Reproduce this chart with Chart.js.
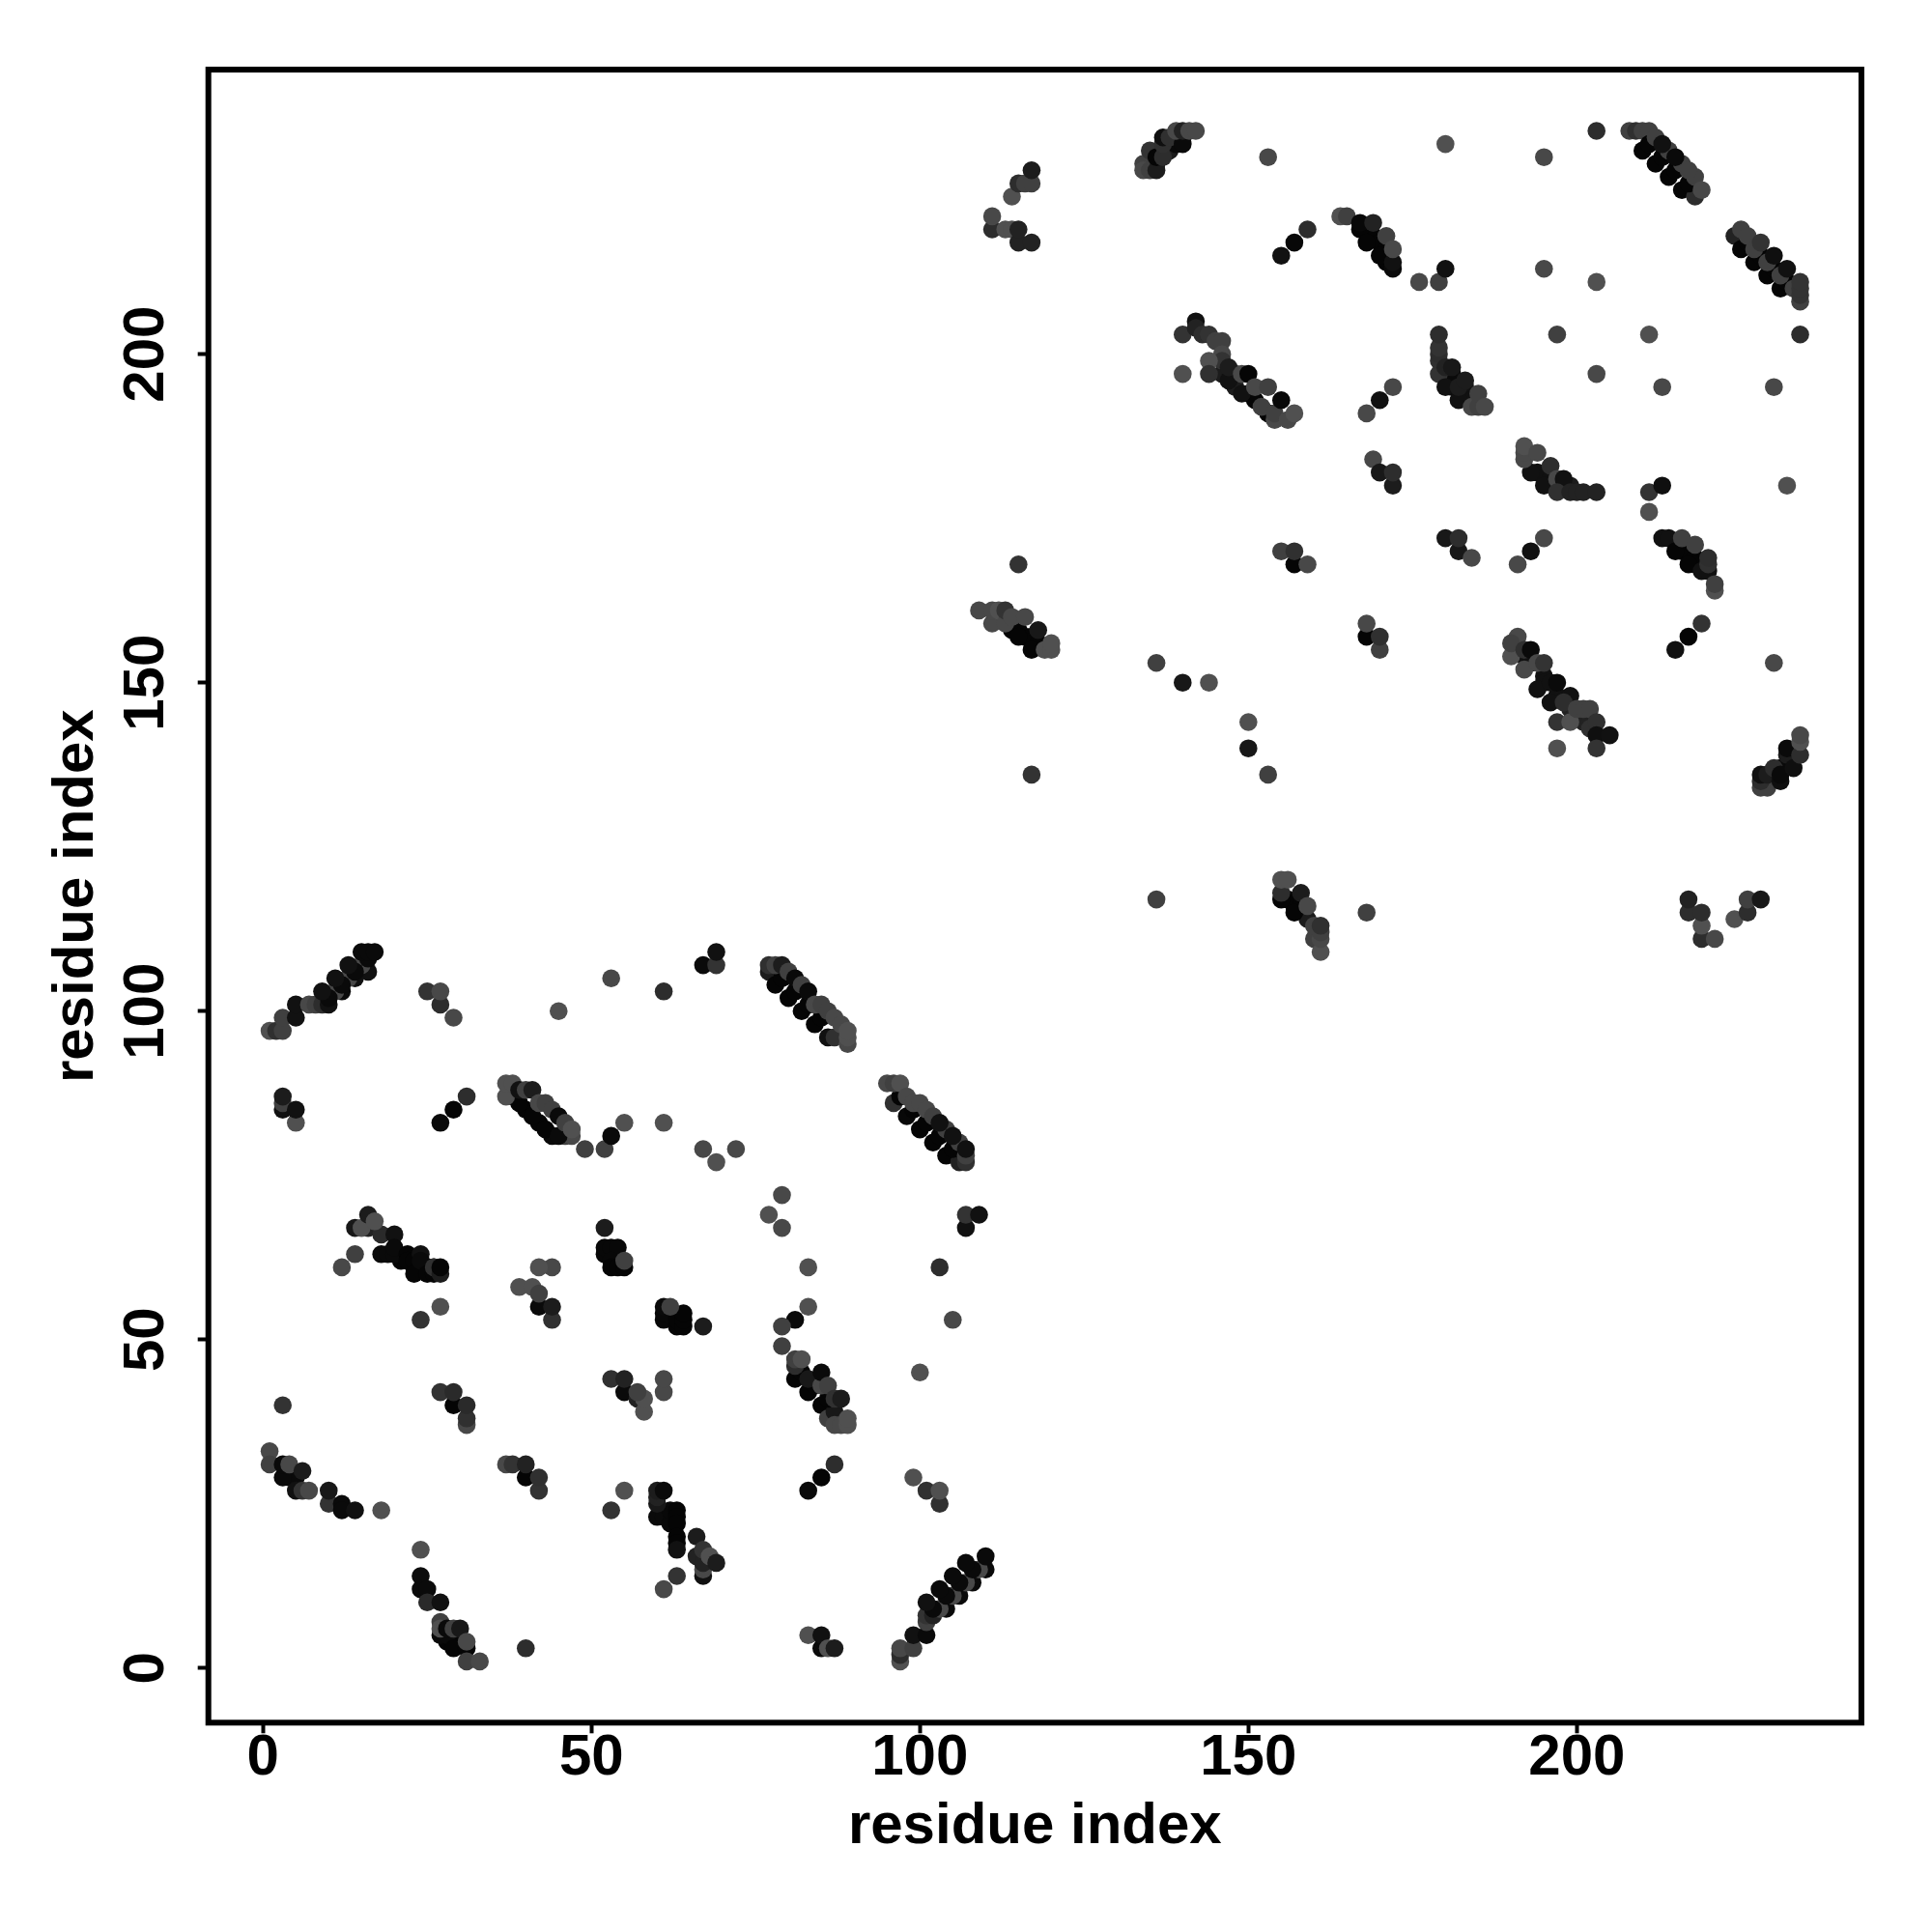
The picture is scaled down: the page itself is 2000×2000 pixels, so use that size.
<!DOCTYPE html>
<html>
<head>
<meta charset="utf-8">
<title>residue contact map</title>
<script src="https://cdn.jsdelivr.net/npm/chart.js@4"></script>
<style>
    html, body { margin: 0; padding: 0; background: #fff; }
    canvas { display: block; }
</style>
</head>
<body>
<canvas id="myChart" width="2000" height="2000"></canvas>
<script>
const axisLabel = "residue index";
const tickValues = [0, 50, 100, 150, 200];

// one line per cluster of contacts, same line order in all three arrays
const residueX = [
    4,5,3,1,1,3,3,5,4,6,7,6,10,10,12,12,14,18,
    28,29,30,24,24,24,25,25,27,27,28,29,31,27,27,28,29,30,31,31,33,40,
    27,29,31,29,31,31,
    37,38,40,40,42,42,
    55,53,55,57,58,58,57,61,61,53,55,
    60,61,62,62,63,63,63,63,63,63,60,60,60,61,66,66,67,67,67,67,68,69,63,61,
    83,85,87,99,101,103,103,83,85,85,86,87,
    97,97,97,99,99,101,101,101,102,104,106,108,110,103,105,107,109,102,104,106,108,101,103,105,107,110,
    1,2,3,3,5,5,7,8,9,10,12,14,16,11,13,15,10,12,14,16,9,11,13,15,16,17,
    29,27,25,27,45,53,61,67,69,69,
    3,5,3,3,5,
    27,29,31,
    38,40,42,44,46,47,39,41,43,45,37,37,38,39,40,41,42,43,44,45,46,47,
    49,52,53,55,61,67,69,72,
    21,23,25,26,14,16,15,18,16,17,20,14,12,18,19,20,20,22,22,23,23,24,24,25,26,26,27,27,
    27,24,
    39,41,42,42,44,44,44,42,
    52,52,52,53,54,53,53,54,55,55,
    61,61,61,63,63,64,64,64,62,67,
    83,103,83,105,81,79,79,100,
    81,83,85,86,87,87,88,82,84,86,81,81,82,83,85,85,86,87,88,89,89,
    77,78,80,82,84,86,87,79,81,83,85,77,78,79,80,81,82,83,84,85,86,87,88,89,89,89,
    96,98,100,102,104,106,107,97,99,101,103,105,95,96,97,98,99,100,101,102,104,106,107,103,105,107,
    107,107,109,79,77,79,
    111,111,113,114,115,115,117,114,115,116,117,117,
    135,136,137,138,139,140,134,134,135,136,135,136,137,137,137,138,140,139,140,141,142,
    153,180,195,203,155,157,159,
    168,169,170,171,171,164,165,167,167,168,170,172,172,169,171,172,
    176,179,180,
    146,148,148,150,151,153,140,142,142,143,144,145,146,146,146,140,144,144,147,147,149,149,150,152,151,153,154,154,155,156,157,
    172,170,168,169,170,172,172,
    181,181,183,183,184,179,179,179,179,179,180,182,180,181,182,183,184,185,185,186,
    208,209,210,211,210,212,214,216,218,211,213,215,217,212,214,216,218,213,215,217,219,
    224,225,227,229,231,226,228,230,232,225,226,227,228,229,231,233,230,232,234,234,234,234,
    195,203,197,211,234,203,213,230,
    194,196,198,199,193,195,192,192,192,194,196,197,198,197,199,200,201,203,
    211,213,211,232,
    180,182,182,184,191,193,195,
    216,217,218,219,218,213,214,215,217,219,220,216,218,220,220,221,221,
    215,217,219,230,
    192,193,195,195,197,199,199,201,202,190,191,190,192,193,192,194,195,194,196,196,197,197,199,198,200,201,202,202,203,203,205,197,203,
    230,231,233,228,229,228,228,229,230,231,231,232,233,232,234,234,234,
    114,115,116,117,118,109,111,111,112,113,113,114,115,116,117,118,119,120,120,115,
    155,157,157,159,168,168,170,170,136,140,144,150,150,153,117,
    156,157,158,159,155,155,155,156,157,158,160,159,161,160,161,161,161,
    217,217,219,219,219,221,224,226,226,228,136,168
];

const residueY = [
    29,29,40,33,31,29,31,27,31,27,27,30,25,27,25,24,24,24,
    4,4,4,18,14,12,12,10,10,5,5,3,3,7,6,6,6,6,1,4,1,3,
    42,40,37,42,38,40,
    31,31,29,31,27,29,
    42,44,44,41,39,41,42,42,44,24,27,
    23,23,22,24,24,23,22,20,19,18,25,26,27,27,20,17,14,15,16,18,17,16,14,12,
    27,29,31,29,27,25,27,5,3,5,3,3,
    1,2,3,3,5,5,7,8,8,9,11,13,15,9,11,13,15,9,11,13,15,10,12,14,16,17,
    97,97,97,99,99,101,101,101,101,101,103,105,106,103,105,107,102,104,106,108,103,105,107,109,109,109,
    99,101,103,103,100,105,103,107,107,109,
    85,83,86,87,85,
    83,85,87,
    87,85,83,81,81,81,86,84,82,81,87,89,89,88,88,88,86,86,85,84,83,82,
    79,79,81,83,83,79,77,79,
    62,61,61,61,67,67,67,66,69,68,66,63,61,63,63,63,64,63,62,62,60,63,62,60,60,61,60,61,
    55,53,
    58,58,55,57,53,55,61,61,
    67,63,64,64,64,62,61,61,61,62,
    53,54,55,52,53,52,53,54,55,52,
    61,61,55,53,53,52,49,45,
    44,42,40,38,39,37,37,45,43,41,46,47,47,44,43,45,43,41,41,37,38,
    106,104,102,100,98,96,96,105,103,101,99,107,107,107,106,105,104,103,101,101,100,99,98,95,96,97,
    86,84,82,80,78,77,77,87,85,83,81,79,89,89,89,87,86,86,85,84,82,80,78,83,81,79,
    67,69,69,72,69,67,
    219,221,219,219,217,219,217,224,226,226,226,228,
    229,229,231,231,232,233,229,228,228,228,231,230,230,232,233,233,232,234,234,234,234,
    230,232,230,234,215,217,219,
    219,218,217,216,214,221,221,219,220,217,215,213,214,220,218,216,
    211,211,213,
    197,197,195,194,193,191,203,205,204,203,203,202,202,200,199,197,199,197,196,198,194,197,197,192,195,195,190,191,193,190,191,
    195,193,191,184,182,180,182,
    195,197,194,195,193,197,199,200,201,203,195,193,198,198,195,196,192,192,194,192,
    234,234,234,234,231,229,227,225,224,232,230,228,226,233,231,229,227,232,230,228,225,
    218,216,214,212,210,217,215,213,211,219,218,216,217,214,212,210,215,213,208,209,210,211,
    213,211,203,203,203,197,195,195,
    182,181,180,180,182,180,184,185,186,185,183,181,181,179,179,179,179,179,
    179,180,176,180,
    172,170,172,169,168,170,172,
    170,170,169,168,168,172,172,170,168,167,167,172,171,168,169,164,165,
    155,157,159,153,
    154,153,151,150,148,146,148,144,144,154,157,156,155,155,152,153,153,149,147,150,150,144,144,147,146,146,146,143,144,142,142,140,140,
    136,137,139,134,134,135,136,136,137,135,136,139,137,140,139,141,142,
    158,158,157,157,156,161,159,161,161,159,161,160,157,160,155,158,155,155,156,168,
    170,168,170,168,157,159,155,157,153,150,150,144,140,136,136,
    117,116,116,114,117,118,120,120,115,118,111,116,109,113,111,112,113,
    115,117,111,113,115,111,114,115,117,117,117,115
];

// grey level of each contact, 0 = black
const contactGrey = [
    10,10,51,72,64,10,10,17,72,51,72,28,51,24,10,10,17,80,
    5,5,5,80,12,10,10,42,17,10,10,5,5,64,80,10,64,24,64,72,72,45,
    51,5,72,42,48,42,
    72,51,5,34,51,48,
    10,48,34,34,80,80,64,72,72,51,80,
    10,10,8,8,5,5,5,5,5,17,24,34,28,10,28,34,17,72,34,51,80,28,51,72,
    10,5,45,80,48,48,80,80,10,17,80,28,
    80,45,72,64,17,10,64,51,34,10,10,10,10,72,72,72,72,10,10,10,10,17,10,10,10,10,
    80,48,64,64,17,17,72,64,45,17,10,17,17,72,72,72,10,10,10,10,17,17,17,10,10,10,
    72,45,51,72,80,72,45,10,51,17,
    17,80,64,28,17,
    10,5,45,
    51,5,5,10,64,72,5,5,5,10,80,80,80,17,64,28,72,64,64,10,64,80,
    64,64,10,80,80,72,80,72,
    5,5,5,5,24,34,80,42,28,80,17,64,72,10,10,10,10,5,5,5,5,17,10,5,5,48,28,5,
    80,51,
    80,80,10,64,48,28,72,80,
    28,8,8,8,8,8,5,5,5,64,
    8,8,10,5,5,5,5,5,64,28,
    80,45,80,72,10,64,64,80,
    5,5,5,64,24,72,72,5,5,5,45,64,80,24,72,10,64,48,28,80,80,
    28,5,5,5,5,17,48,5,5,5,5,48,64,28,64,10,64,10,72,64,64,72,72,72,80,80,
    48,8,5,5,5,34,48,5,5,5,5,5,72,64,80,72,72,72,72,64,64,64,64,17,17,17,
    17,51,17,72,80,72,
    45,72,80,80,34,34,34,80,45,64,64,28,
    28,10,10,28,10,10,64,72,64,28,51,5,45,48,15,48,10,72,34,72,72,
    72,80,72,45,17,8,45,
    5,5,5,5,5,80,64,5,8,5,5,10,17,34,64,72,
    72,64,17,
    28,17,28,17,5,5,51,17,34,45,51,64,64,72,51,80,80,48,17,28,17,72,5,64,72,64,72,64,8,72,80,
    72,17,72,72,24,28,45,
    10,10,17,17,17,51,48,45,51,45,17,17,34,24,28,28,72,64,64,72,
    64,48,64,64,5,5,5,5,45,5,5,5,5,64,64,64,64,17,10,64,72,
    34,5,5,5,5,5,5,5,5,64,64,64,51,64,64,64,15,17,64,51,51,51,
    72,80,64,80,45,72,72,72,
    17,17,17,28,17,17,72,72,80,72,45,72,17,48,34,34,34,34,
    51,15,80,80,
    24,24,45,72,72,17,72,
    5,5,5,5,5,17,17,5,5,17,17,64,64,48,45,80,64,
    17,5,51,72,
    17,17,17,17,17,34,17,34,34,80,72,64,48,10,72,72,51,17,17,17,10,51,80,45,64,64,64,48,48,15,17,80,51,
    10,10,15,64,64,45,17,28,45,15,10,28,15,10,45,80,72,
    5,5,5,5,5,72,72,72,80,72,51,72,5,72,5,24,80,80,80,51,
    64,5,48,72,5,72,64,48,64,24,80,80,24,64,51,
    5,5,5,28,5,45,80,80,5,28,64,72,80,64,72,64,48,
    45,34,45,80,45,72,80,45,64,24,64,64
];

console.log(residueX.length, residueY.length, contactGrey.length);

const points = residueX.map((x, i) => ({ x: x, y: residueY[i] }));
const greys = contactGrey.map(g => `rgb(${g},${g},${g})`);

const fontFamily = '"Liberation Sans", Arial, sans-serif';

// R style box round the plot area
const boxPlugin = {
    id: 'box',
    afterDatasetsDraw(chart) {
        const { ctx, chartArea } = chart;
        ctx.save();
        ctx.strokeStyle = '#000';
        ctx.lineWidth = 6;
        ctx.lineJoin = 'miter';
        ctx.strokeRect(chartArea.left, chartArea.top, chartArea.right - chartArea.left, chartArea.bottom - chartArea.top);
        ctx.restore();
    }
};

function axisOptions() {
    return {
        type: 'linear',
        min: -8.32,
        max: 243.32,
        afterBuildTicks(scale) {
            scale.ticks = tickValues.map(v => ({ value: v }));
        },
        border: { display: false },
        grid: {
            drawOnChartArea: false,
            drawTicks: true,
            tickLength: 11,
            tickWidth: 4,
            tickColor: '#000'
        },
        title: {
            display: true,
            text: axisLabel,
            color: '#000',
            font: { family: fontFamily, size: 60, weight: 'bold', lineHeight: 1 }
        }
    };
}

const xAxis = axisOptions();
xAxis.ticks = {
    color: '#000',
    font: { family: fontFamily, size: 60, weight: 'bold', lineHeight: 1 },
    maxRotation: 0,
    minRotation: 0,
    autoSkip: false,
    padding: -4
};
xAxis.title.padding = { top: 0, bottom: 79 };
xAxis.afterFit = scale => { scale.height = 216.7; };

const yAxis = axisOptions();
yAxis.ticks = {
    color: '#000',
    font: { family: fontFamily, size: 60, weight: 'bold', lineHeight: 1 },
    minRotation: 90,
    maxRotation: 90,
    autoSkip: false,
    crossAlign: 'center',
    padding: 2
};
yAxis.title.padding = { top: 49, bottom: 0 };
yAxis.afterFit = scale => { scale.width = 215.7; };

new Chart(document.getElementById('myChart').getContext('2d'), {
    type: 'scatter',
    data: {
        datasets: [{
            data: points,
            pointRadius: 9.3,
            pointBorderWidth: 0,
            pointBackgroundColor: greys,
            pointHoverRadius: 9.3
        }]
    },
    options: {
        responsive: false,
        animation: false,
        layout: { padding: { top: 72.1, right: 73.1, bottom: 0, left: 0 } },
        plugins: {
            legend: { display: false },
            tooltip: { enabled: false },
            title: { display: false }
        },
        scales: { x: xAxis, y: yAxis }
    },
    plugins: [boxPlugin]
});
</script>
</body>
</html>
